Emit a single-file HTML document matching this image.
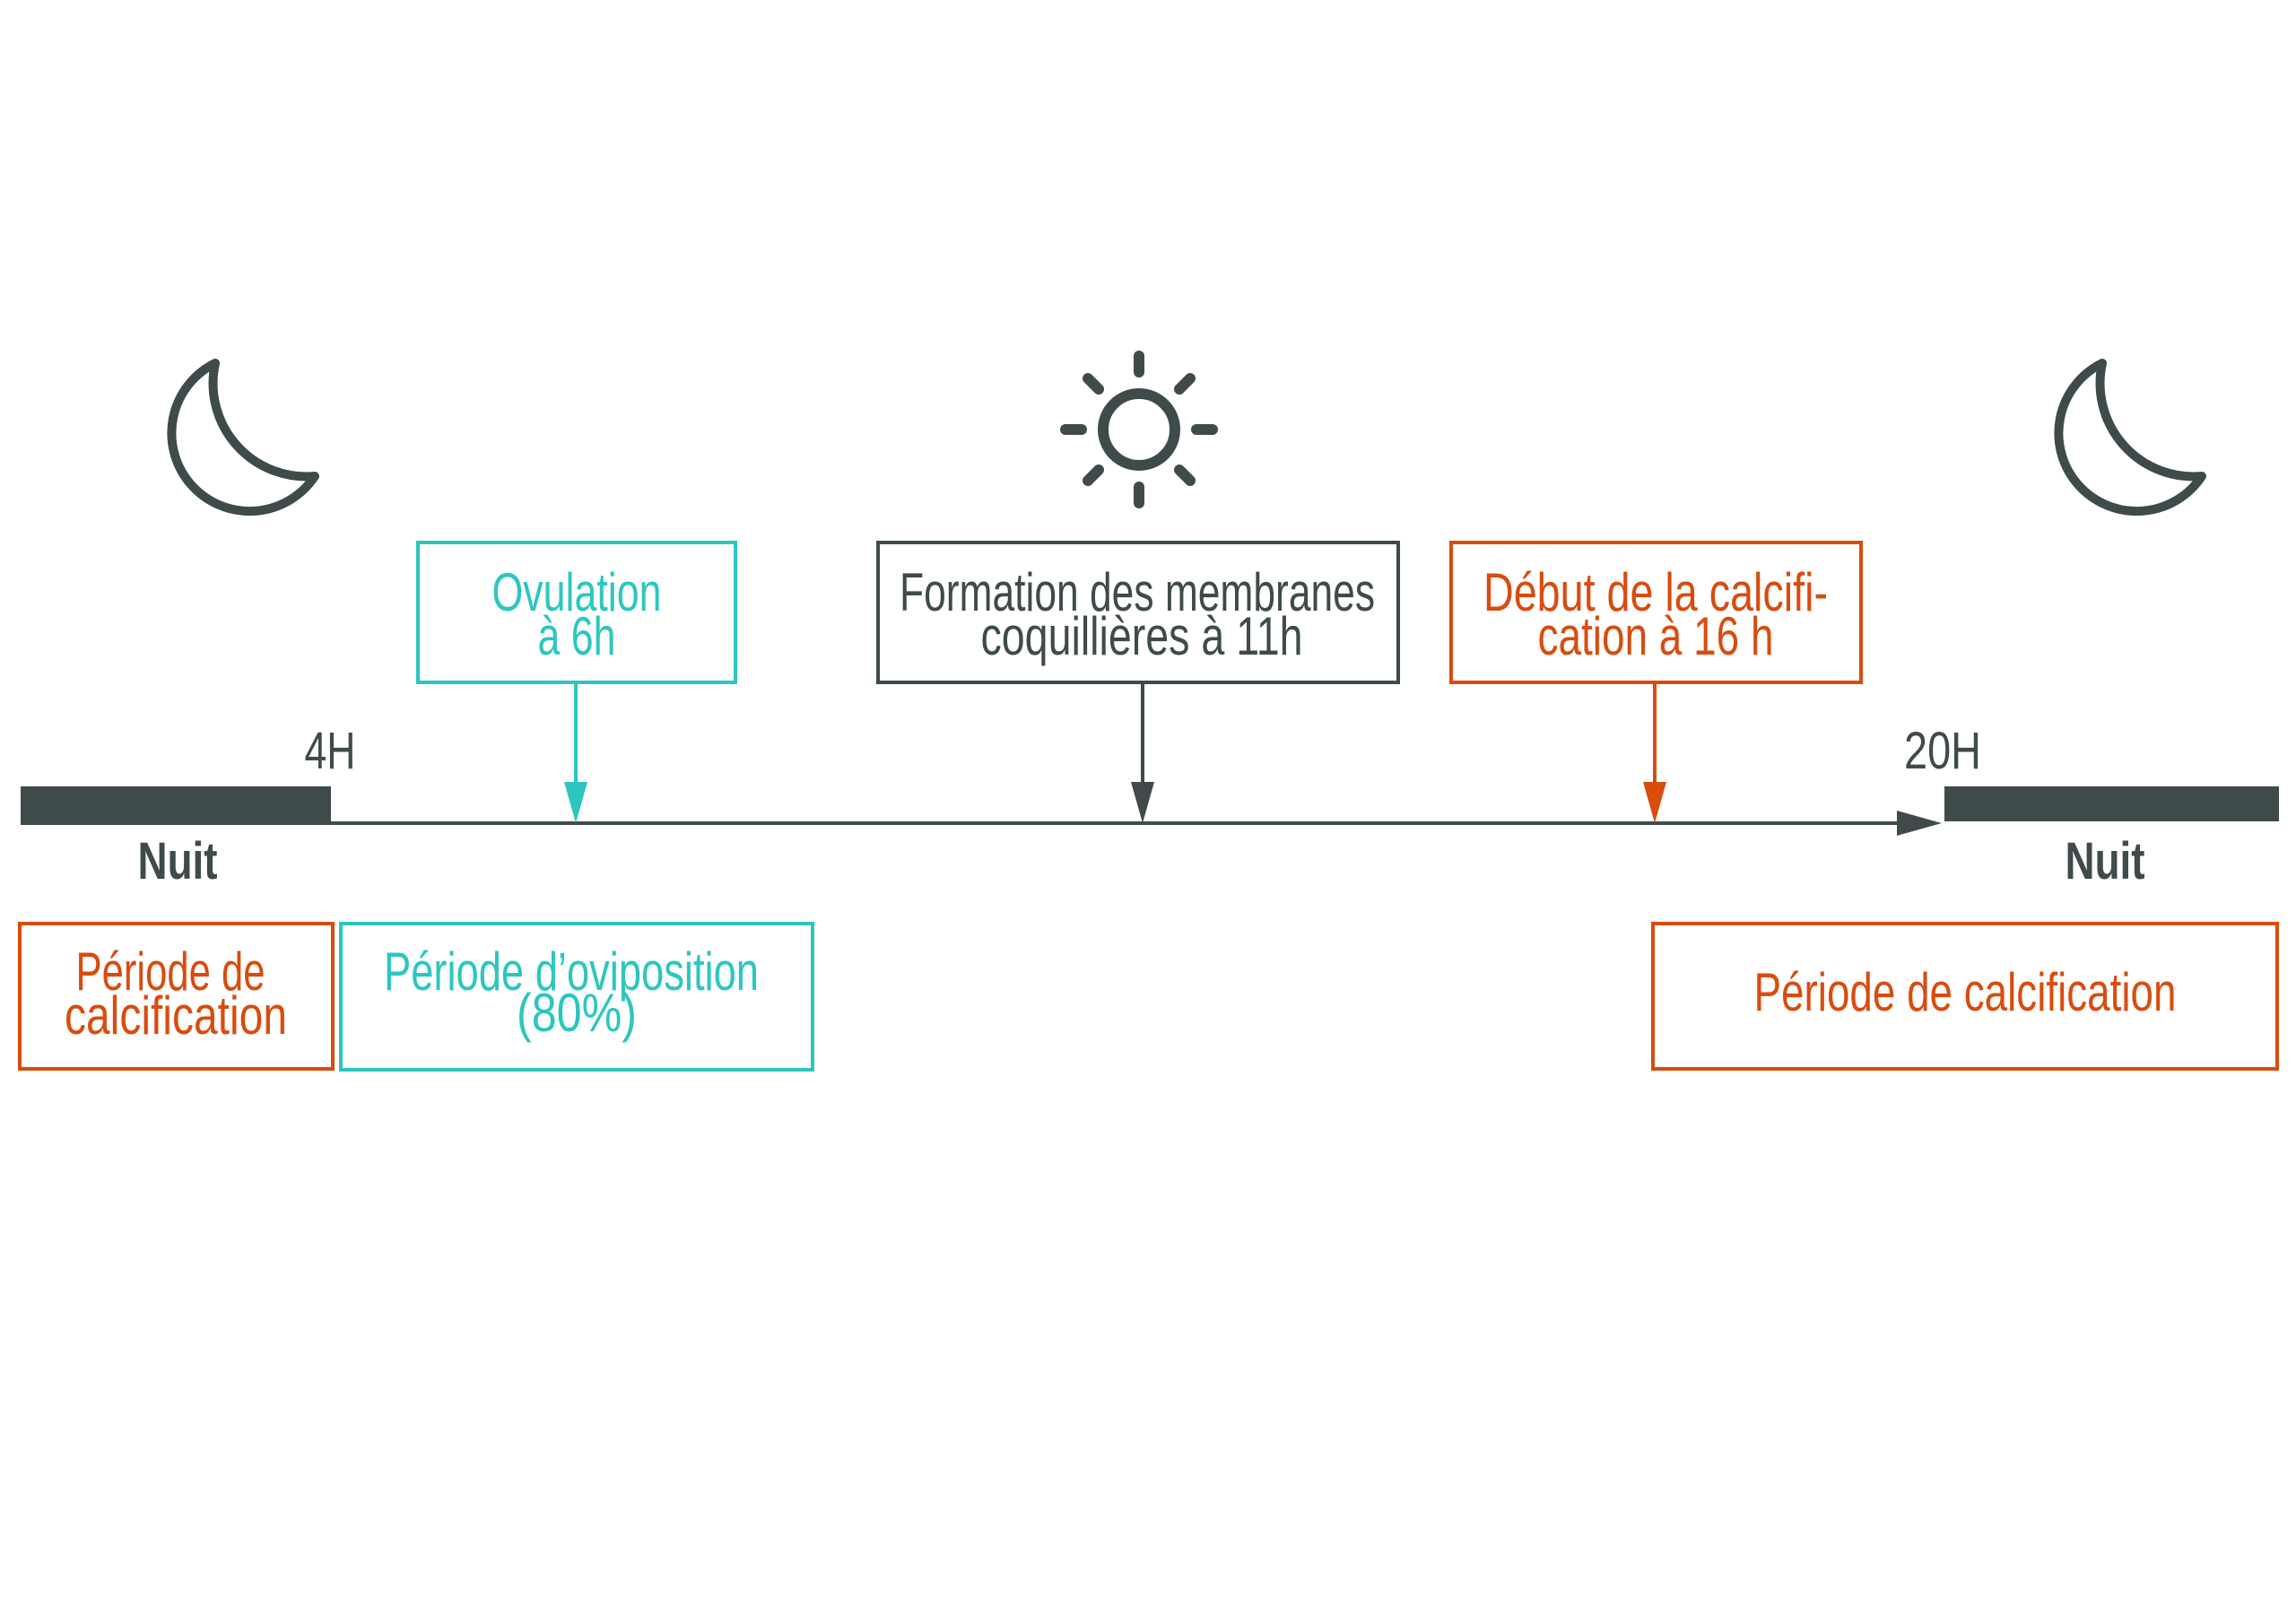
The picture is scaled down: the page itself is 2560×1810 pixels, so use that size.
<!DOCTYPE html>
<html><head><meta charset="utf-8"><style>
html,body{margin:0;padding:0;background:#fff;}
svg{display:block;}
text{font-family:"Liberation Sans Narrow","Liberation Sans",sans-serif;}
</style></head><body>
<svg width="2560" height="1810" viewBox="0 0 2560 1810" xmlns="http://www.w3.org/2000/svg">
<rect width="2560" height="1810" fill="#fff"/>
<g fill="none" stroke="#3f4b4b" stroke-width="10" stroke-linejoin="round">
<path d="M240,405 A 87 87 0 1 0 351,531 A 104 104 0 0 1 240,405 Z"/>
<path d="M2344,405 A 87 87 0 1 0 2455,531 A 104 104 0 0 1 2344,405 Z"/>
</g>
<g stroke="#3f4b4b" stroke-width="12" stroke-linecap="round" fill="none">
<circle cx="1270" cy="479" r="40"/>
<line x1="1270" y1="397" x2="1270" y2="415"/>
<line x1="1270" y1="543" x2="1270" y2="561"/>
<line x1="1188" y1="479" x2="1206" y2="479"/>
<line x1="1334" y1="479" x2="1352" y2="479"/>
<line x1="1213" y1="422" x2="1225" y2="434"/>
<line x1="1315" y1="524" x2="1327" y2="536"/>
<line x1="1327" y1="422" x2="1315" y2="434"/>
<line x1="1225" y1="524" x2="1213" y2="536"/>
</g>
<rect x="23" y="877" width="346" height="39" fill="#3f4b4b"/>
<rect x="2168" y="877" width="373" height="39" fill="#3f4b4b"/>
<line x1="23" y1="918" x2="2120" y2="918" stroke="#3f4b4b" stroke-width="4"/>
<polygon points="2115,904 2165,918 2115,932" fill="#3f4b4b"/>
<text x="368" y="857" font-size="58" fill="#3f4b4b" text-anchor="middle" textLength="57" lengthAdjust="spacingAndGlyphs">4H</text>
<text x="2166" y="857" font-size="58" fill="#3f4b4b" text-anchor="middle" textLength="86" lengthAdjust="spacingAndGlyphs">20H</text>
<text x="198" y="980" font-size="58" font-weight="bold" fill="#3f4b4b" text-anchor="middle" textLength="89" lengthAdjust="spacingAndGlyphs">Nuit</text>
<text x="2347" y="980" font-size="58" font-weight="bold" fill="#3f4b4b" text-anchor="middle" textLength="89" lengthAdjust="spacingAndGlyphs">Nuit</text>
<g fill="none" stroke-width="4">
<rect x="466" y="605" width="354" height="156" stroke="#2cc6bf"/>
<rect x="979" y="605" width="580" height="156" stroke="#3f4b4b"/>
<rect x="1618" y="605" width="457" height="156" stroke="#d84c0e"/>
<rect x="22" y="1030" width="349" height="162" stroke="#d84c0e"/>
<rect x="380" y="1030" width="526" height="163" stroke="#2cc6bf"/>
<rect x="1843" y="1030" width="696" height="162" stroke="#d84c0e"/>
</g>
<line x1="642" y1="761" x2="642" y2="880" stroke="#2cc6bf" stroke-width="4"/>
<polygon points="629,872 655,872 642,918" fill="#2cc6bf"/>
<line x1="1274" y1="761" x2="1274" y2="880" stroke="#3f4b4b" stroke-width="4"/>
<polygon points="1261,872 1287,872 1274,918" fill="#3f4b4b"/>
<line x1="1845" y1="761" x2="1845" y2="880" stroke="#d84c0e" stroke-width="4"/>
<polygon points="1832,872 1858,872 1845,918" fill="#d84c0e"/>
<g font-size="60" text-anchor="middle">
<text x="643" y="681" fill="#2cc6bf" textLength="189" lengthAdjust="spacingAndGlyphs">Ovulation</text>
<text x="643" y="730" fill="#2cc6bf" textLength="87" lengthAdjust="spacingAndGlyphs">à 6h</text>
<text x="1268" y="681" fill="#3f4b4b" textLength="530" lengthAdjust="spacingAndGlyphs">Formation des membranes</text>
<text x="1273" y="730" fill="#3f4b4b" textLength="359" lengthAdjust="spacingAndGlyphs">coquillières à 11h</text>
<text x="1846" y="681" fill="#d84c0e" textLength="384" lengthAdjust="spacingAndGlyphs">Début de la calcifi-</text>
<text x="1846" y="730" fill="#d84c0e" textLength="263" lengthAdjust="spacingAndGlyphs">cation à 16 h</text>
<text x="190" y="1104" fill="#d84c0e" textLength="211" lengthAdjust="spacingAndGlyphs">Période de</text>
<text x="196" y="1153" fill="#d84c0e" textLength="248" lengthAdjust="spacingAndGlyphs">calcification</text>
<text x="637" y="1104" fill="#2cc6bf" textLength="418" lengthAdjust="spacingAndGlyphs">Période d’oviposition</text>
<text x="643" y="1150" fill="#2cc6bf" textLength="134" lengthAdjust="spacingAndGlyphs">(80%)</text>
<text x="2191" y="1127" fill="#d84c0e" textLength="471" lengthAdjust="spacingAndGlyphs">Période de calcification</text>
</g>
</svg>
</body></html>
